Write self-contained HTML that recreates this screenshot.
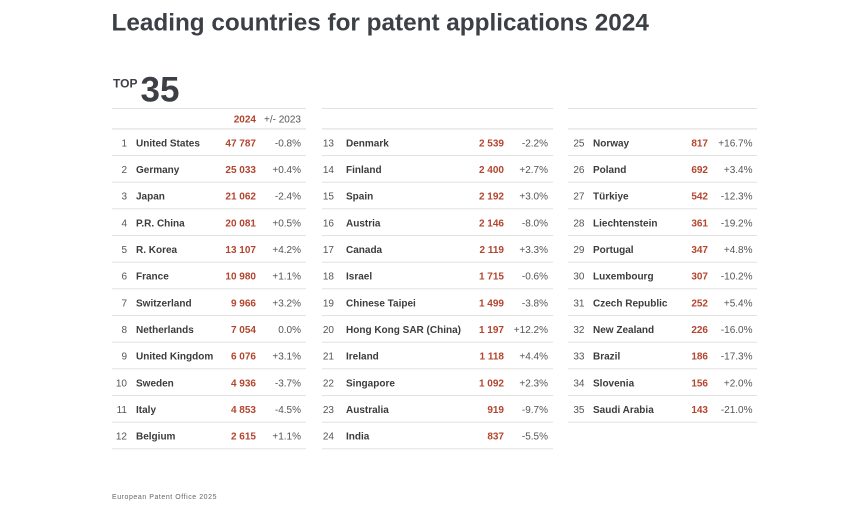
<!DOCTYPE html>
<html><head><meta charset="utf-8"><style>
html,body{margin:0;padding:0;background:#fff;}
svg{display:block;}
text{font-family:"Liberation Sans",Arial,sans-serif;}
.t{font-size:10px;fill:#555;}
.n{font-size:10px;font-weight:bold;fill:#3c3c3c;}
.v{font-size:10px;font-weight:bold;fill:#b3452f;text-anchor:end;}
.e{text-anchor:end;}
</style></head><body>
<svg width="857" height="525" viewBox="0 0 857 525" xmlns="http://www.w3.org/2000/svg">
<rect width="857" height="525" fill="#fff"/>
<text x="111.5" y="30.7" font-size="24.3" font-weight="bold" fill="#3d3f46">Leading countries for patent applications 2024</text>
<text x="113" y="87.3" font-size="12" font-weight="bold" fill="#3d3f46">TOP</text>
<text x="140.5" y="101.6" font-size="35" font-weight="bold" fill="#3d3f46">35</text>
<g fill="#e2e2e2">
<rect x="112" y="108" width="194" height="1"/>
<rect x="322" y="108" width="231" height="1"/>
<rect x="568" y="108" width="189" height="1"/>
</g>
<text x="256" y="122.5" class="v">2024</text>
<text x="301" y="122.5" class="t e">+/- 2023</text>
<g fill="#e2e2e2">
<rect x="112" y="128.3" width="194" height="1.2"/><rect x="322" y="128.3" width="231" height="1.2"/><rect x="568" y="128.3" width="189" height="1.2"/>
<rect x="112" y="155" width="194" height="1"/><rect x="322" y="155" width="231" height="1"/><rect x="568" y="155" width="189" height="1"/>
<rect x="112" y="181.7" width="194" height="1"/><rect x="322" y="181.7" width="231" height="1"/><rect x="568" y="181.7" width="189" height="1"/>
<rect x="112" y="208.3" width="194" height="1"/><rect x="322" y="208.3" width="231" height="1"/><rect x="568" y="208.3" width="189" height="1"/>
<rect x="112" y="235" width="194" height="1"/><rect x="322" y="235" width="231" height="1"/><rect x="568" y="235" width="189" height="1"/>
<rect x="112" y="261.7" width="194" height="1"/><rect x="322" y="261.7" width="231" height="1"/><rect x="568" y="261.7" width="189" height="1"/>
<rect x="112" y="288.3" width="194" height="1"/><rect x="322" y="288.3" width="231" height="1"/><rect x="568" y="288.3" width="189" height="1"/>
<rect x="112" y="315" width="194" height="1"/><rect x="322" y="315" width="231" height="1"/><rect x="568" y="315" width="189" height="1"/>
<rect x="112" y="341.7" width="194" height="1"/><rect x="322" y="341.7" width="231" height="1"/><rect x="568" y="341.7" width="189" height="1"/>
<rect x="112" y="368.3" width="194" height="1"/><rect x="322" y="368.3" width="231" height="1"/><rect x="568" y="368.3" width="189" height="1"/>
<rect x="112" y="395" width="194" height="1"/><rect x="322" y="395" width="231" height="1"/><rect x="568" y="395" width="189" height="1"/>
<rect x="112" y="421.7" width="194" height="1"/><rect x="322" y="421.7" width="231" height="1"/><rect x="568" y="421.7" width="189" height="1"/>
<rect x="112" y="448.3" width="194" height="1"/><rect x="322" y="448.3" width="231" height="1"/>
</g>

<g>
<text x="127" y="146.3" class="t e">1</text><text x="136" y="146.3" class="n">United States</text><text x="256" y="146.3" class="v">47 787</text><text x="301" y="146.3" class="t e">-0.8%</text>
<text x="127" y="173" class="t e">2</text><text x="136" y="173" class="n">Germany</text><text x="256" y="173" class="v">25 033</text><text x="301" y="173" class="t e">+0.4%</text>
<text x="127" y="199.6" class="t e">3</text><text x="136" y="199.6" class="n">Japan</text><text x="256" y="199.6" class="v">21 062</text><text x="301" y="199.6" class="t e">-2.4%</text>
<text x="127" y="226.3" class="t e">4</text><text x="136" y="226.3" class="n">P.R. China</text><text x="256" y="226.3" class="v">20 081</text><text x="301" y="226.3" class="t e">+0.5%</text>
<text x="127" y="253" class="t e">5</text><text x="136" y="253" class="n">R. Korea</text><text x="256" y="253" class="v">13 107</text><text x="301" y="253" class="t e">+4.2%</text>
<text x="127" y="279.7" class="t e">6</text><text x="136" y="279.7" class="n">France</text><text x="256" y="279.7" class="v">10 980</text><text x="301" y="279.7" class="t e">+1.1%</text>
<text x="127" y="306.3" class="t e">7</text><text x="136" y="306.3" class="n">Switzerland</text><text x="256" y="306.3" class="v">9 966</text><text x="301" y="306.3" class="t e">+3.2%</text>
<text x="127" y="333" class="t e">8</text><text x="136" y="333" class="n">Netherlands</text><text x="256" y="333" class="v">7 054</text><text x="301" y="333" class="t e">0.0%</text>
<text x="127" y="359.7" class="t e">9</text><text x="136" y="359.7" class="n">United Kingdom</text><text x="256" y="359.7" class="v">6 076</text><text x="301" y="359.7" class="t e">+3.1%</text>
<text x="127" y="386.3" class="t e">10</text><text x="136" y="386.3" class="n">Sweden</text><text x="256" y="386.3" class="v">4 936</text><text x="301" y="386.3" class="t e">-3.7%</text>
<text x="127" y="413" class="t e">11</text><text x="136" y="413" class="n">Italy</text><text x="256" y="413" class="v">4 853</text><text x="301" y="413" class="t e">-4.5%</text>
<text x="127" y="439.7" class="t e">12</text><text x="136" y="439.7" class="n">Belgium</text><text x="256" y="439.7" class="v">2 615</text><text x="301" y="439.7" class="t e">+1.1%</text>
</g>

<g>
<text x="334" y="146.3" class="t e">13</text><text x="346" y="146.3" class="n">Denmark</text><text x="504" y="146.3" class="v">2 539</text><text x="548" y="146.3" class="t e">-2.2%</text>
<text x="334" y="173" class="t e">14</text><text x="346" y="173" class="n">Finland</text><text x="504" y="173" class="v">2 400</text><text x="548" y="173" class="t e">+2.7%</text>
<text x="334" y="199.6" class="t e">15</text><text x="346" y="199.6" class="n">Spain</text><text x="504" y="199.6" class="v">2 192</text><text x="548" y="199.6" class="t e">+3.0%</text>
<text x="334" y="226.3" class="t e">16</text><text x="346" y="226.3" class="n">Austria</text><text x="504" y="226.3" class="v">2 146</text><text x="548" y="226.3" class="t e">-8.0%</text>
<text x="334" y="253" class="t e">17</text><text x="346" y="253" class="n">Canada</text><text x="504" y="253" class="v">2 119</text><text x="548" y="253" class="t e">+3.3%</text>
<text x="334" y="279.7" class="t e">18</text><text x="346" y="279.7" class="n">Israel</text><text x="504" y="279.7" class="v">1 715</text><text x="548" y="279.7" class="t e">-0.6%</text>
<text x="334" y="306.3" class="t e">19</text><text x="346" y="306.3" class="n">Chinese Taipei</text><text x="504" y="306.3" class="v">1 499</text><text x="548" y="306.3" class="t e">-3.8%</text>
<text x="334" y="333" class="t e">20</text><text x="346" y="333" class="n">Hong Kong SAR (China)</text><text x="504" y="333" class="v">1 197</text><text x="548" y="333" class="t e">+12.2%</text>
<text x="334" y="359.7" class="t e">21</text><text x="346" y="359.7" class="n">Ireland</text><text x="504" y="359.7" class="v">1 118</text><text x="548" y="359.7" class="t e">+4.4%</text>
<text x="334" y="386.3" class="t e">22</text><text x="346" y="386.3" class="n">Singapore</text><text x="504" y="386.3" class="v">1 092</text><text x="548" y="386.3" class="t e">+2.3%</text>
<text x="334" y="413" class="t e">23</text><text x="346" y="413" class="n">Australia</text><text x="504" y="413" class="v">919</text><text x="548" y="413" class="t e">-9.7%</text>
<text x="334" y="439.7" class="t e">24</text><text x="346" y="439.7" class="n">India</text><text x="504" y="439.7" class="v">837</text><text x="548" y="439.7" class="t e">-5.5%</text>
</g>

<g>
<text x="584.5" y="146.3" class="t e">25</text><text x="593" y="146.3" class="n">Norway</text><text x="708" y="146.3" class="v">817</text><text x="752.5" y="146.3" class="t e">+16.7%</text>
<text x="584.5" y="173" class="t e">26</text><text x="593" y="173" class="n">Poland</text><text x="708" y="173" class="v">692</text><text x="752.5" y="173" class="t e">+3.4%</text>
<text x="584.5" y="199.6" class="t e">27</text><text x="593" y="199.6" class="n">Türkiye</text><text x="708" y="199.6" class="v">542</text><text x="752.5" y="199.6" class="t e">-12.3%</text>
<text x="584.5" y="226.3" class="t e">28</text><text x="593" y="226.3" class="n">Liechtenstein</text><text x="708" y="226.3" class="v">361</text><text x="752.5" y="226.3" class="t e">-19.2%</text>
<text x="584.5" y="253" class="t e">29</text><text x="593" y="253" class="n">Portugal</text><text x="708" y="253" class="v">347</text><text x="752.5" y="253" class="t e">+4.8%</text>
<text x="584.5" y="279.7" class="t e">30</text><text x="593" y="279.7" class="n">Luxembourg</text><text x="708" y="279.7" class="v">307</text><text x="752.5" y="279.7" class="t e">-10.2%</text>
<text x="584.5" y="306.3" class="t e">31</text><text x="593" y="306.3" class="n">Czech Republic</text><text x="708" y="306.3" class="v">252</text><text x="752.5" y="306.3" class="t e">+5.4%</text>
<text x="584.5" y="333" class="t e">32</text><text x="593" y="333" class="n">New Zealand</text><text x="708" y="333" class="v">226</text><text x="752.5" y="333" class="t e">-16.0%</text>
<text x="584.5" y="359.7" class="t e">33</text><text x="593" y="359.7" class="n">Brazil</text><text x="708" y="359.7" class="v">186</text><text x="752.5" y="359.7" class="t e">-17.3%</text>
<text x="584.5" y="386.3" class="t e">34</text><text x="593" y="386.3" class="n">Slovenia</text><text x="708" y="386.3" class="v">156</text><text x="752.5" y="386.3" class="t e">+2.0%</text>
<text x="584.5" y="413" class="t e">35</text><text x="593" y="413" class="n">Saudi Arabia</text><text x="708" y="413" class="v">143</text><text x="752.5" y="413" class="t e">-21.0%</text>
</g>

<text x="112" y="499" font-size="7" letter-spacing="0.55" fill="#666">European Patent Office 2025</text>
</svg>
</body></html>
